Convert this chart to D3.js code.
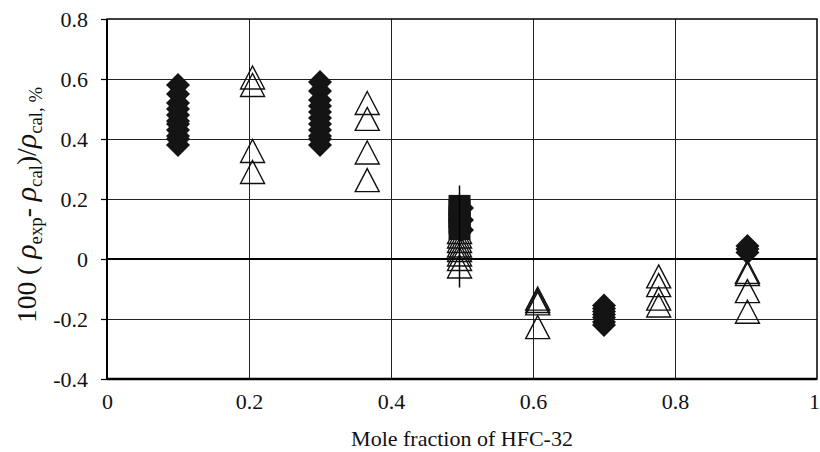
<!DOCTYPE html>
<html><head><meta charset="utf-8">
<script src="https://cdn.jsdelivr.net/npm/d3@7/dist/d3.min.js"></script>
<style>body{margin:0;background:#fff}svg{display:block}</style>
</head><body><svg id="c" width="820" height="452"></svg>
<script>
// ---- data ----
const xTicks = [0, 0.2, 0.4, 0.6, 0.8, 1];
const yTicks = [-0.4, -0.2, 0, 0.2, 0.4, 0.6, 0.8];
const xTickLabels = ["0", "0.2", "0.4", "0.6", "0.8", "1"];
const yTickLabels = ["-0.4", "-0.2", "0", "0.2", "0.4", "0.6", "0.8"];
// filled diamonds: [x, deviation]
const diamondX = [0.1,0.1,0.1,0.1,0.1,0.1,0.1,0.1,0.1,0.1,0.1,
  0.3,0.3,0.3,0.3,0.3,0.3,0.3,0.3,0.3,0.3,0.3,
  0.5,0.5,0.5,
  0.7,0.7,0.7,0.7,0.7,0.7,0.7,
  0.902,0.902,0.902];
const diamondY = [0.58,0.55,0.52,0.50,0.48,0.46,0.45,0.43,0.41,0.40,0.38,
  0.59,0.56,0.53,0.51,0.49,0.47,0.45,0.43,0.41,0.40,0.38,
  0.17,0.13,0.097,
  -0.155,-0.165,-0.175,-0.185,-0.195,-0.21,-0.22,
  0.043,0.033,0.022];
// filled squares
const squareX = [0.4965,0.4965,0.4965,0.4965,0.4965];
const squareY = [0.177,0.16,0.14,0.12,0.10];
// open triangles
const triX = [0.205,0.205,0.205,0.205,
  0.3665,0.3665,0.3665,0.3665,
  0.4965,0.4965,0.4965,0.4965,0.4965,0.4965,0.4965,0.4965,
  0.6066,0.6066,0.6066,0.6066,
  0.777,0.777,0.777,0.777,
  0.902,0.902,0.902,0.902];
const triY = [0.605,0.58,0.36,0.29,
  0.52,0.467,0.355,0.263,
  0.09,0.075,0.06,0.045,0.03,0.015,0.0,-0.025,
  -0.132,-0.14,-0.148,-0.227,
  -0.058,-0.087,-0.132,-0.155,
  -0.043,-0.05,-0.107,-0.176];
// error bar at x = 0.5
const errX = [0.4965];
const errLow = [-0.095];
const errHigh = [0.245];

// ---- layout ----
const FONT = "'Liberation Serif', 'Times New Roman', serif";
const W = 820, H = 452;
const m = {left:107, right:3, top:19, bottom:73};
const svg = d3.select("#c");
const x = d3.scaleLinear().domain([0,1]).range([m.left, W-m.right]);
const y = d3.scaleLinear().domain([-0.4,0.8]).range([H-m.bottom, m.top]);

// gridlines
svg.append("g").selectAll("line").data(xTicks.filter(v=>v>0&&v<1)).join("line")
  .attr("x1",d=>Math.round(x(d))+0.5).attr("x2",d=>Math.round(x(d))+0.5)
  .attr("y1",y(0.8)).attr("y2",y(-0.4)).attr("stroke","#222").attr("stroke-width",1);
svg.append("g").selectAll("line").data(yTicks.filter(v=>v>-0.4&&v<0.8&&v!==0)).join("line")
  .attr("x1",x(0)).attr("x2",x(1))
  .attr("y1",d=>Math.round(y(d))+0.5).attr("y2",d=>Math.round(y(d))+0.5).attr("stroke","#222").attr("stroke-width",1);
// zero line
svg.append("line").attr("x1",x(0)).attr("x2",x(1)).attr("y1",y(0)).attr("y2",y(0))
  .attr("stroke","#000").attr("stroke-width",2);

// frame
svg.append("rect").attr("x",x(0)).attr("y",y(0.8)).attr("width",x(1)-x(0)).attr("height",y(-0.4)-y(0.8))
  .attr("fill","none").attr("stroke","#000").attr("stroke-width",1.5);
svg.append("line").attr("x1",x(0)).attr("x2",x(1)).attr("y1",y(-0.4)).attr("y2",y(-0.4))
  .attr("stroke","#000").attr("stroke-width",2.5);
svg.append("line").attr("x1",x(0)).attr("x2",x(0)).attr("y1",y(0.8)).attr("y2",y(-0.4))
  .attr("stroke","#000").attr("stroke-width",2);

// axes
const yAxis = d3.axisLeft(y).tickValues(yTicks).tickSize(6).tickPadding(13)
  .tickFormat((d,i)=>yTickLabels[i]);
const gy = svg.append("g").attr("transform",`translate(${x(0)},0)`).call(yAxis)
  .attr("font-family",FONT);
gy.select(".domain").remove();
gy.selectAll("line").attr("stroke","#000").attr("stroke-width",1.2);
gy.selectAll("text").style("font-size","22px").style("font-family",FONT).attr("fill","#111");

const xAxis = d3.axisBottom(x).tickValues(xTicks).tickSize(0).tickPadding(14)
  .tickFormat((d,i)=>xTickLabels[i]);
const gx = svg.append("g").attr("transform",`translate(0,${y(-0.4)})`).call(xAxis)
  .attr("font-family",FONT);
gx.select(".domain").remove();
gx.selectAll("text").style("font-size","22px").style("font-family",FONT).attr("fill","#111")
  .attr("dx",(d,i)=>i===xTicks.length-1?-3:0);

// symbol types
const triType = {draw(ctx,size){const h=11.5,w=12;ctx.moveTo(0,-h);ctx.lineTo(w,h);ctx.lineTo(-w,h);ctx.closePath();}};
const diaType = {draw(ctx,size){const r=12;ctx.moveTo(0,-r);ctx.lineTo(r,0);ctx.lineTo(0,r);ctx.lineTo(-r,0);ctx.closePath();}};
const sqType = {draw(ctx,size){const r=11;ctx.rect(-r,-r,2*r,2*r);}};

// triangles (under)
svg.append("g").selectAll("path").data(triX.map((v,i)=>[v,triY[i]])).join("path")
  .attr("d",d3.symbol().type(triType)())
  .attr("transform",d=>`translate(${x(d[0])},${y(d[1])})`)
  .attr("fill","none").attr("stroke","#111").attr("stroke-width",1.4);

// squares
svg.append("g").selectAll("path").data(squareX.map((v,i)=>[v,squareY[i]])).join("path")
  .attr("d",d3.symbol().type(sqType)())
  .attr("transform",d=>`translate(${x(d[0])},${y(d[1])})`)
  .attr("fill","#141414");

// diamonds
svg.append("g").selectAll("path").data(diamondX.map((v,i)=>[v,diamondY[i]])).join("path")
  .attr("d",d3.symbol().type(diaType)())
  .attr("transform",d=>`translate(${x(d[0])},${y(d[1])})`)
  .attr("fill","#141414");

// error bar
svg.append("g").selectAll("line").data(errX.map((v,i)=>[v,errLow[i],errHigh[i]])).join("line")
  .attr("x1",d=>x(d[0])).attr("x2",d=>x(d[0])).attr("y1",d=>y(d[1])).attr("y2",d=>y(d[2]))
  .attr("stroke","#000").attr("stroke-width",1.5);

// axis titles
svg.append("text").attr("x",(x(0)+x(1))/2).attr("y",446).attr("text-anchor","middle")
  .style("font-family",FONT).style("font-size","22px").attr("fill","#111").text("Mole fraction of HFC-32");

const yl = svg.append("text").attr("transform","translate(36,205) rotate(-90)")
  .attr("text-anchor","middle").style("font-family",FONT).style("font-size","22px").attr("fill","#111");
const parts = [
  ["100 ( ",0,22,"normal"],["ρ",0,24,"italic"],["exp",1,15,"normal"],["- ",-1,22,"normal"],
  ["ρ",0,24,"italic"],["cal",1,15,"normal"],[")/",-1,22,"normal"],["ρ",0,24,"italic"],
  ["cal, %",1,15,"normal"]];
const spans = parts.map(p=>{
  const t = yl.append("tspan").text(p[0]).style("font-family",FONT).style("font-size",p[2]+"px").style("font-style",p[3]);
  if(p[1]===1) t.attr("dy",5); else if(p[1]===-1) t.attr("dy",-5);
  return t;
});
// fit the rotated title to the length it has in the reference (about 255 px)
const len = yl.node().getComputedTextLength();
const k = Math.min(1.25, Math.max(0.75, 255/len));
spans.forEach((t,i)=>{
  t.style("font-size",(parts[i][2]*k)+"px");
  if(parts[i][1]!==0) t.attr("dy",parts[i][1]*5*k);
});
</script></body></html>
